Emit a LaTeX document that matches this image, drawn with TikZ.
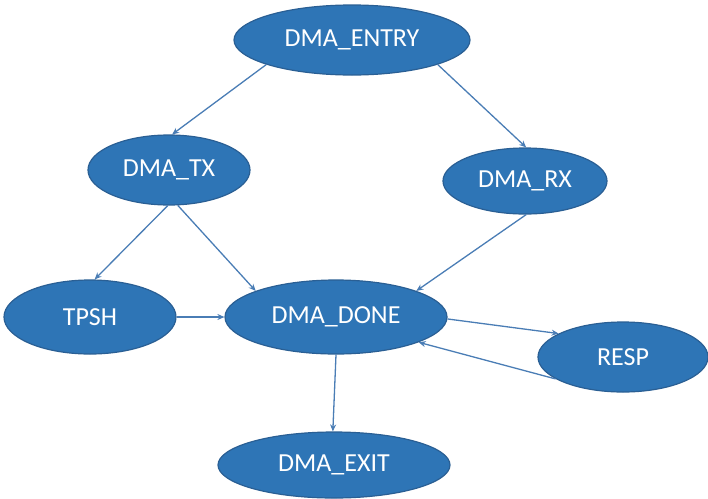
\documentclass[tikz,border=0pt]{standalone}
\usepackage{fontspec}
\setmainfont{Carlito}
\usetikzlibrary{shapes.geometric,arrows.meta}
\definecolor{statefill}{HTML}{2E75B6}
\definecolor{stateedge}{HTML}{2A5F94}
\definecolor{linkcol}{HTML}{4A7DB5}
\tikzset{
  state/.style={ellipse, draw=stateedge, line width=1.2pt, fill=statefill,
    text=white, inner sep=0pt, font=\fontsize{26}{29}\selectfont},
  link/.style={draw=linkcol, line width=1.3pt,
    -{Stealth[length=7pt,width=6pt]}}
}
\begin{document}
\begin{tikzpicture}[x=1pt,y=1pt]
\useasboundingbox (0,0) rectangle (708,-498);
% states
\node[state, minimum width=236pt, minimum height=70pt] (entry) at (352,-40) {DMA\_ENTRY};
\node[state, minimum width=162pt, minimum height=70pt] (tx) at (169,-170) {DMA\_TX};
\node[state, minimum width=164pt, minimum height=66pt] (rx) at (525,-181) {DMA\_RX};
\node[state, minimum width=172pt, minimum height=74pt] (tpsh) at (90,-317) {TPSH};
\node[state, minimum width=222pt, minimum height=74pt] (done) at (336,-317) {DMA\_DONE};
\node[state, minimum width=170pt, minimum height=70pt] (resp) at (623,-357) {RESP};
\node[state, minimum width=232pt, minimum height=66pt] (exit) at (334,-465) {DMA\_EXIT};
% transitions
\draw[link] (entry.196) -- (tx.85);
\draw[link] (entry.344) -- (rx.88);
\draw[link] (tx.268) -- (tpsh.83);
\draw[link] (tx.284) -- (done.162);
\draw[link] (rx.272) -- (done.18);
\draw[link] (tpsh.east) -- (done.west);
\draw[link] (done.359) -- (resp.160);
\draw[link] (resp.198) -- (done.343);
\draw[link] (done.270) -- (exit.92);
\end{tikzpicture}
\end{document}
